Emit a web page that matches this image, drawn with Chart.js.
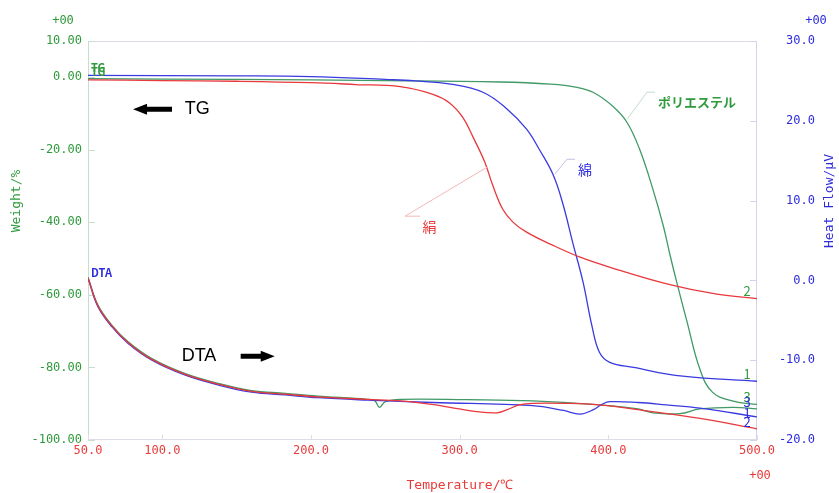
<!DOCTYPE html>
<html>
<head>
<meta charset="utf-8">
<script src="https://cdn.jsdelivr.net/npm/chart.js@4.4.1/dist/chart.umd.min.js"></script>
<style>
  html, body { margin: 0; padding: 0; background: #fff; }
  canvas { display: block; }
</style>
</head>
<body>
<canvas id="tg-dta-chart" width="839" height="493"></canvas>
<script>
const temperatureTicks = [50, 100, 200, 300, 400, 500];
const weightTicks = [10, 0, -20, -40, -60, -80, -100];
const heatFlowTicks = [30, 20, 10, 0, -10, -20];

// TG curves (Weight/%)
const silkTgTemp = [50, 100, 150, 200, 230, 260, 282, 293, 302, 309, 317, 322, 329, 336, 345, 361, 381, 406, 440, 473, 500];
const silkTgWeight = [-0.7, -0.9, -1.1, -1.5, -2.0, -2.6, -4.7, -7.0, -11.0, -16.5, -23.5, -29.5, -36.4, -40.0, -42.7, -46.0, -49.6, -53.0, -57.0, -59.8, -61.0];

const cottonTgTemp = [50, 150, 200, 250, 270, 294, 316, 332, 345, 354, 363, 369.5, 376, 383, 389, 394, 401, 417, 450, 500];
const cottonTgWeight = [0.5, 0.4, 0.2, -0.6, -1.0, -1.9, -4.2, -8.8, -14.3, -20.2, -27.0, -35.0, -45.5, -56.5, -68.6, -75.8, -78.6, -80.0, -82.4, -83.8];

const polyTgTemp = [50, 150, 250, 327, 361, 379, 390, 403, 412.5, 421, 430, 437, 441.5, 446, 453, 461.6, 470, 484, 500];
const polyTgWeight = [-0.4, -0.6, -0.9, -1.3, -1.9, -2.8, -4.2, -8.0, -12.4, -19.8, -30.9, -41.0, -49.0, -56.5, -67.5, -80.5, -86.8, -89.3, -90.2];

// DTA curves (Heat Flow/uV)
const silkDtaTemp = [50, 56.7, 66, 77, 93, 115, 137.5, 160, 182.5, 204.7, 238, 260, 280, 293.5, 310, 325, 332, 340, 349, 370, 394, 428, 461.6, 500];
const silkDtaFlow = [0.3, -3.2, -5.7, -7.8, -9.9, -11.75, -13.0, -13.9, -14.25, -14.6, -14.9, -15.1, -15.5, -15.9, -16.4, -16.6, -16.2, -15.6, -15.4, -15.4, -15.6, -16.4, -17.3, -18.6];

const cottonDtaTemp = [50, 56.7, 66, 77, 93, 115, 137.5, 160, 182.5, 204.7, 238, 282, 349, 370, 381, 390, 396, 401, 420, 439, 461.6, 500];
const cottonDtaFlow = [0.3, -3.3, -5.8, -7.9, -10.0, -11.85, -13.1, -14.0, -14.35, -14.7, -15.0, -15.3, -15.7, -16.3, -16.75, -16.2, -15.5, -15.2, -15.3, -15.6, -16.0, -17.1];

const polyDtaTemp = [50, 56.7, 66, 77, 93, 115, 137.5, 160, 182.5, 204.7, 238, 243, 246, 250, 260, 305, 349, 394, 420, 430, 448, 461.6, 484, 500];
const polyDtaFlow = [0.4, -3.1, -5.6, -7.7, -9.8, -11.65, -12.9, -13.8, -14.15, -14.5, -14.9, -15.1, -15.9, -15.2, -14.9, -14.95, -15.1, -15.6, -16.1, -16.6, -16.7, -16.1, -15.9, -16.1];

const RED = "#e8383c";
const BLUE = "#3a3ae0";
const GREEN = "#409966";
const GREEN_TEXT = "#2e9a3c";
const BLUE_TEXT = "#2c2cdc";
const RED_TEXT = "#e83a3a";
const JP_FONT = '"Noto Sans CJK JP", "DejaVu Sans", sans-serif';
const MONO_FONT = '"DejaVu Sans Mono", monospace';

function toPoints(temps, values) {
  return temps.map((t, i) => ({ x: t, y: values[i] }));
}

function curve(label, temps, values, color, axis) {
  return {
    label,
    data: toPoints(temps, values),
    borderColor: color,
    borderWidth: 1.3,
    pointRadius: 0,
    fill: false,
    tension: 0.4,
    yAxisID: axis,
  };
}

function drawText(ctx, text, x, y, font, color, align = "left", angle = 0) {
  ctx.save();
  ctx.translate(x, y);
  if (angle) ctx.rotate(angle);
  ctx.font = font;
  ctx.fillStyle = color;
  ctx.textAlign = align;
  ctx.textBaseline = "middle";
  ctx.fillText(text, 0, 0);
  ctx.restore();
}

function drawBlockArrow(ctx, xTail, xHead, y) {
  const dir = xHead > xTail ? 1 : -1;
  const headLen = 14;
  const neck = xHead - dir * headLen;
  ctx.save();
  ctx.fillStyle = "#000";
  ctx.beginPath();
  ctx.moveTo(xTail, y - 2.5);
  ctx.lineTo(neck, y - 2.5);
  ctx.lineTo(neck, y - 5.5);
  ctx.lineTo(xHead, y);
  ctx.lineTo(neck, y + 5.5);
  ctx.lineTo(neck, y + 2.5);
  ctx.lineTo(xTail, y + 2.5);
  ctx.closePath();
  ctx.fill();
  ctx.restore();
}

function drawLeader(ctx, pts, color) {
  ctx.save();
  ctx.strokeStyle = color;
  ctx.lineWidth = 1;
  ctx.beginPath();
  pts.forEach(([px, py], i) => (i ? ctx.lineTo(px, py) : ctx.moveTo(px, py)));
  ctx.stroke();
  ctx.restore();
}

const decorPlugin = {
  id: "decor",
  beforeDatasetsDraw(chart) {
    const { ctx, chartArea: a, scales } = chart;
    ctx.save();
    ctx.lineWidth = 1;
    const side = (x1, y1, x2, y2, c) => {
      ctx.strokeStyle = c;
      ctx.beginPath();
      ctx.moveTo(x1, y1);
      ctx.lineTo(x2, y2);
      ctx.stroke();
    };
    side(a.left, a.top + 0.5, a.right, a.top + 0.5, "#dcdde6");
    side(a.left, a.bottom - 0.5, a.right, a.bottom - 0.5, "#dcdde6");
    side(a.left + 0.5, a.top, a.left + 0.5, a.bottom, "#c8dccf");
    side(a.right - 0.5, a.top, a.right - 0.5, a.bottom, "#d2d3ec");

    weightTicks.forEach((v) => {
      const y = Math.round(scales.yW.getPixelForValue(v)) + 0.5;
      side(a.left, y, a.left + 7, y, "#c8dccf");
    });
    heatFlowTicks.forEach((v) => {
      const y = Math.round(scales.yH.getPixelForValue(v)) + 0.5;
      side(a.right - 7, y, a.right, y, "#d2d3ec");
    });
    temperatureTicks.forEach((v) => {
      const x = Math.round(scales.x.getPixelForValue(v)) + 0.5;
      side(x, a.bottom, x, a.bottom - 5, "#dcdde6");
    });
    ctx.restore();
  },
  afterDatasetsDraw(chart) {
    const { ctx, chartArea: a, scales } = chart;
    const X = (t) => scales.x.getPixelForValue(t);
    const W = (w) => scales.yW.getPixelForValue(w);
    const H = (h) => scales.yH.getPixelForValue(h);

    // exponent / axis titles
    drawText(ctx, "+00", a.left - 25, a.top - 20, "12px " + MONO_FONT, GREEN_TEXT, "center");
    drawText(ctx, "+00", a.right + 59, a.top - 20, "12px " + MONO_FONT, BLUE_TEXT, "center");
    drawText(ctx, "+00", a.right + 3, a.bottom + 36, "12px " + MONO_FONT, RED_TEXT, "center");
    drawText(ctx, "Temperature/℃", a.left + 372, a.bottom + 46, "13px " + MONO_FONT, RED_TEXT, "center");
    drawText(ctx, "Weight/%", 17, a.top + 160, "13px " + MONO_FONT, GREEN_TEXT, "center", -Math.PI / 2);
    drawText(ctx, "Heat Flow/μV", a.right + 73, a.top + 160, "13px " + MONO_FONT, BLUE_TEXT, "center", -Math.PI / 2);

    // curve group markers
    drawText(ctx, "TG", a.left + 3, W(2.7), "bold 11px " + JP_FONT, GREEN_TEXT);
    drawText(ctx, "TG", a.left + 3, W(1.4), "bold 11px " + JP_FONT, GREEN_TEXT);
    drawText(ctx, "DTA", a.left + 3, H(1.0), "bold 11px " + JP_FONT, BLUE_TEXT);

    // TG / DTA arrows
    drawBlockArrow(ctx, X(106.5), X(80.3), W(-8.8));
    drawText(ctx, "TG", X(115), W(-8.8), "18px Arial, 'Liberation Sans', sans-serif", "#000");
    drawText(ctx, "DTA", X(113), H(-9.5), "18px Arial, 'Liberation Sans', sans-serif", "#000");
    drawBlockArrow(ctx, X(152.7), X(175.6), H(-9.5));

    // sample labels with leaders
    drawLeader(ctx, [[X(273.3), W(-38.3)], [X(263.2), W(-38.3)], [X(318.4), W(-24.8)]], "#f2b8b8");
    drawText(ctx, "絹", X(275), W(-41.3), "14px " + JP_FONT, RED_TEXT);
    drawLeader(ctx, [[X(364), W(-26.7)], [X(372.2), W(-22.6)], [X(377.6), W(-22.6)]], "#c0c0e6");
    drawText(ctx, "綿", X(379.6), W(-25.4), "14px " + JP_FONT, BLUE_TEXT);
    drawLeader(ctx, [[X(412.6), W(-11.6)], [X(426), W(-4.1)], [X(431.4), W(-4.1)]], "#c4dccb");
    drawText(ctx, "ポリエステル", X(433.4), W(-6.9), "bold 13px " + JP_FONT, GREEN_TEXT);

    // curve numbers at the right end
    const endLabel = (txt, y, color) =>
      drawText(ctx, txt, a.right - 10, y - 7, "13px " + JP_FONT, color, "center");
    endLabel("2", W(silkTgWeight[silkTgWeight.length - 1]), GREEN_TEXT);
    endLabel("1", W(cottonTgWeight[cottonTgWeight.length - 1]), GREEN_TEXT);
    endLabel("3", W(polyTgWeight[polyTgWeight.length - 1]), GREEN_TEXT);
    endLabel("3", H(polyDtaFlow[polyDtaFlow.length - 1]), BLUE_TEXT);
    endLabel("1", H(cottonDtaFlow[cottonDtaFlow.length - 1]) + 3, BLUE_TEXT);
    endLabel("2", H(silkDtaFlow[silkDtaFlow.length - 1]), BLUE_TEXT);
  },
};

const datasets = [
  curve("絹 TG", silkTgTemp, silkTgWeight, RED, "yW"),
  curve("綿 TG", cottonTgTemp, cottonTgWeight, BLUE, "yW"),
  curve("ポリエステル TG", polyTgTemp, polyTgWeight, GREEN, "yW"),
  curve("絹 DTA", silkDtaTemp, silkDtaFlow, RED, "yH"),
  curve("綿 DTA", cottonDtaTemp, cottonDtaFlow, BLUE, "yH"),
  curve("ポリエステル DTA", polyDtaTemp, polyDtaFlow, GREEN, "yH"),
];

const tickFont = { family: MONO_FONT, size: 12 };
const hiddenGrid = { display: false, drawTicks: false, tickLength: 0 };

new Chart(document.getElementById("tg-dta-chart").getContext("2d"), {
  type: "line",
  data: { datasets },
  options: {
    responsive: false,
    animation: false,
    events: [],
    layout: { padding: { top: 41, left: 0, right: 24, bottom: 0 } },
    plugins: { legend: { display: false }, tooltip: { enabled: false } },
    scales: {
      x: {
        type: "linear",
        position: "bottom",
        min: 50,
        max: 500,
        afterBuildTicks: (scale) => { scale.ticks = temperatureTicks.map((v) => ({ value: v })); },
        afterFit: (scale) => { scale.height = 53; },
        grid: hiddenGrid,
        border: { display: false },
        ticks: {
          autoSkip: false,
          maxRotation: 0,
          padding: 4,
          color: RED_TEXT,
          font: tickFont,
          callback: (v) => Number(v).toFixed(1),
        },
      },
      yW: {
        type: "linear",
        position: "left",
        min: -100,
        max: 10,
        afterBuildTicks: (scale) => { scale.ticks = weightTicks.map((v) => ({ value: v })); },
        afterFit: (scale) => { scale.width = 88; },
        grid: hiddenGrid,
        border: { display: false },
        ticks: {
          autoSkip: false,
          padding: 6,
          color: GREEN_TEXT,
          font: tickFont,
          callback: (v) => Number(v).toFixed(2),
        },
      },
      yH: {
        type: "linear",
        position: "right",
        min: -20,
        max: 30,
        afterBuildTicks: (scale) => { scale.ticks = heatFlowTicks.map((v) => ({ value: v })); },
        afterFit: (scale) => { scale.width = 58; },
        grid: hiddenGrid,
        border: { display: false },
        ticks: {
          autoSkip: false,
          padding: 22,
          crossAlign: "far",
          color: BLUE_TEXT,
          font: tickFont,
          callback: (v) => Number(v).toFixed(1),
        },
      },
    },
  },
  plugins: [decorPlugin],
});
</script>
</body>
</html>
